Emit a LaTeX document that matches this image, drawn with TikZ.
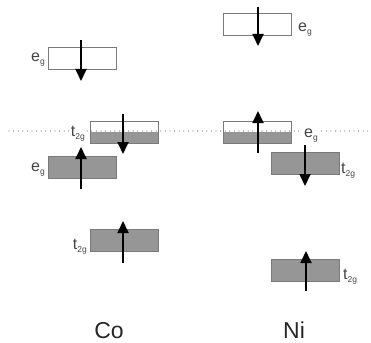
\documentclass[tikz,border=0pt]{standalone}
\usepackage{fontspec}
\setmainfont{Liberation Sans}
\usetikzlibrary{arrows.meta}
\definecolor{boxgray}{HTML}{969696}
\definecolor{edgegray}{HTML}{7A7A7A}
\definecolor{labgray}{HTML}{444444}
\newcommand{\lvl}[2]{#1\raisebox{-3pt}{\fontsize{8.5}{8.5}\selectfont #2}}
\tikzset{
  band/.style={draw=edgegray, line width=0.8pt, minimum width=68pt, minimum height=22pt, inner sep=0pt, outer sep=0pt},
  fullband/.style={band, fill=boxgray},
  emptyband/.style={band, fill=white},
  halfband/.style={band, fill=white, path picture={\fill[boxgray] (path picture bounding box.west) rectangle (path picture bounding box.south east);}},
  spin/.style={line width=1.8pt, -{Triangle[width=11pt,length=12pt]}},
  lab/.style={font=\fontsize{16}{16}\selectfont, text=labgray, inner sep=1pt},
  metal/.style={font=\fontsize{23}{23}\selectfont, text=black!85, inner sep=0pt},
  fermi/.style={draw=gray, line width=1.3pt, line cap=round, dash pattern=on 0pt off 4.6pt}
}
\begin{document}
\begin{tikzpicture}[x=1pt,y=-1pt]
\useasboundingbox (0,0) rectangle (371,342);
% bands
\node[emptyband] (coE1) at (82,58) {};
\node[halfband]  (coT1) at (124.5,132) {};
\node[fullband]  (coE2) at (82,167) {};
\node[fullband]  (coT2) at (124,240) {};
\node[emptyband] (niE1) at (257.5,24) {};
\node[halfband]  (niE2) at (257.5,132) {};
\node[fullband]  (niT1) at (305,163) {};
\node[fullband]  (niT2) at (305,270) {};
% Fermi level
\coordinate (fl) at (9,131);
\coordinate (fr) at (371,131);
\draw[fermi] (fl) -- (fr);
% labels
\node[lab, anchor=base east] (lcoE1) at (46,62) {\lvl{e}{g}};
\node[lab, anchor=base east, fill=white] (lcoT1) at (86,136) {\lvl{t}{2g}};
\node[lab, anchor=base east] (lcoE2) at (46,171) {\lvl{e}{g}};
\node[lab, anchor=base east] (lcoT2) at (88,249) {\lvl{t}{2g}};
\node[lab, anchor=base west] (lniE1) at (297,32) {\lvl{e}{g}};
\node[lab, anchor=base west, fill=white] (lniE2) at (303,137) {\lvl{e}{g}};
\node[lab, anchor=base west] (lniT1) at (340,173) {\lvl{t}{2g}};
\node[lab, anchor=base west] (lniT2) at (342,279) {\lvl{t}{2g}};
% spins
\coordinate (a1s) at (81,40);  \coordinate (a1e) at (81,81);
\coordinate (a2s) at (123,114); \coordinate (a2e) at (123,154);
\coordinate (a3s) at (81,189); \coordinate (a3e) at (81,147);
\coordinate (a4s) at (123,263); \coordinate (a4e) at (123,221);
\coordinate (b1s) at (258,7);  \coordinate (b1e) at (258,46);
\coordinate (b2s) at (258,153); \coordinate (b2e) at (258,111);
\coordinate (b3s) at (305,145); \coordinate (b3e) at (305,186);
\coordinate (b4s) at (306,291); \coordinate (b4e) at (306,251);
\draw[spin] (a1s) -- (a1e);
\draw[spin] (a2s) -- (a2e);
\draw[spin] (a3s) -- (a3e);
\draw[spin] (a4s) -- (a4e);
\draw[spin] (b1s) -- (b1e);
\draw[spin] (b2s) -- (b2e);
\draw[spin] (b3s) -- (b3e);
\draw[spin] (b4s) -- (b4e);
% metals
\node[metal, anchor=base] (co) at (109,338) {Co};
\node[metal, anchor=base] (ni) at (294,338) {Ni};
\end{tikzpicture}
\end{document}
